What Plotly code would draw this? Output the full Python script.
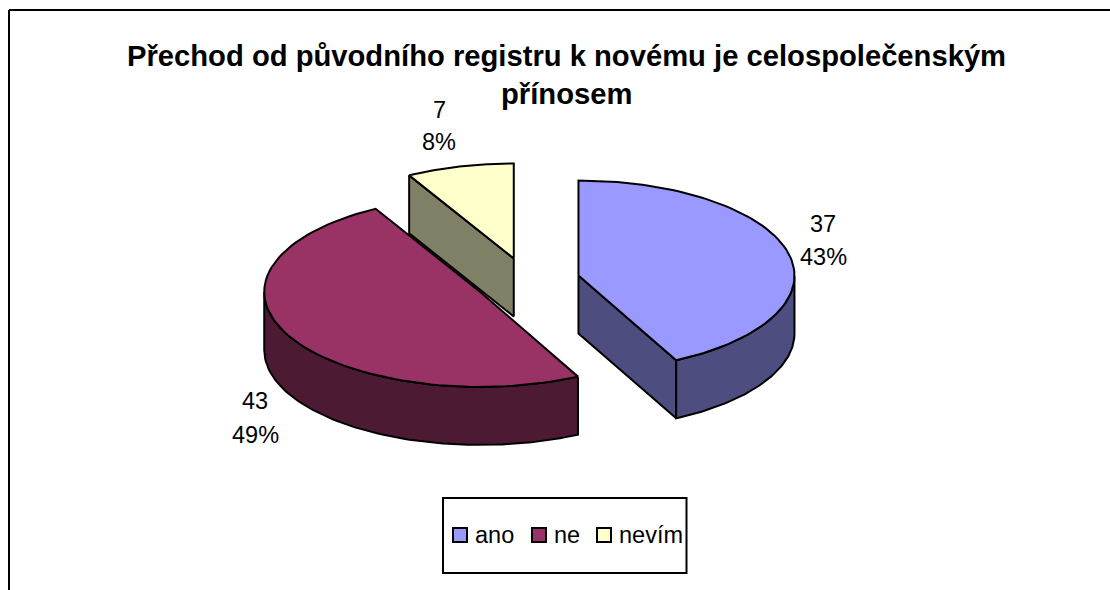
import numpy as np
import plotly.graph_objects as go

categories = ["ano", "ne", "nevím"]
values = [37, 43, 7]
top_colors = ["#9999FF", "#993366", "#FFFFCC"]
side_colors = ["#4D4D80", "#4D1A33", "#808066"]
title_lines = ["Přechod od původního registru k novému je celospolečenským", "přínosem"]

# projection of the tilted pie onto the pixel-sized axes
CX, CY, RX, RY, DEPTH, EXPLODE = 527, 281, 216, 95, 58, 0.245
label_pos = [(823, 224, 257), (255, 401, 435), (439, 110, 142)]
legend_swatch_x = [460, 539, 604]
legend_text_x = [473, 552, 617]

total = sum(values)
edges = np.concatenate([[0], np.cumsum(values)]) / total * 2 * np.pi


def arc(ax, ay, a0, a1, dy=0.0):
    t = np.linspace(a0, a1, 90)
    return ax + RX * np.sin(t), ay - RY * np.cos(t) + dy


def poly(fig, xs, ys, color):
    fig.add_trace(go.Scatter(
        x=np.append(xs, xs[0]), y=np.append(ys, ys[0]), mode="lines", fill="toself",
        fillcolor=color, line=dict(color="black", width=2), hoverinfo="skip", showlegend=False))


fig = go.Figure()
apex = []
for i in range(3):
    mid = (edges[i] + edges[i + 1]) / 2
    apex.append((CX + EXPLODE * RX * np.sin(mid), CY - EXPLODE * RY * np.cos(mid)))

for i in [2, 1, 0]:
    a0, a1 = edges[i], edges[i + 1]
    ax, ay = apex[i]
    # visible cut face: the radial edge that faces the viewer
    if i == 0:
        fx, fy = ax + RX * np.sin(a1), ay - RY * np.cos(a1)
        poly(fig, np.array([ax, fx, fx, ax]), np.array([ay, fy, fy + DEPTH, ay + DEPTH]), side_colors[i])
    if i == 2:
        fx, fy = ax + RX * np.sin(a0), ay - RY * np.cos(a0)
        poly(fig, np.array([ax, fx, fx, ax]), np.array([ay, fy, fy + DEPTH, ay + DEPTH]), side_colors[i])
    # outer wall: the part of the rim on the near half of the ellipse
    w0, w1 = max(a0, np.pi / 2), min(a1, 3 * np.pi / 2)
    if w1 > w0:
        x1, y1 = arc(ax, ay, w0, w1)
        x2, y2 = arc(ax, ay, w1, w0, DEPTH)
        poly(fig, np.concatenate([x1, x2]), np.concatenate([y1, y2]), side_colors[i])
    # top surface
    x, y = arc(ax, ay, a0, a1)
    poly(fig, np.concatenate([[ax], x]), np.concatenate([[ay], y]), top_colors[i])

annotations = []


def txt(x, y, s, size, bold=False, anchor="center"):
    annotations.append(dict(
        x=x, y=y, xref="x", yref="y", text=f"<b>{s}</b>" if bold else s, showarrow=False,
        xanchor=anchor, yanchor="middle", font=dict(family="Liberation Sans", size=size, color="black")))


txt(566, 56, title_lines[0], 29.2, True)
txt(566, 94, title_lines[1], 29.2, True)
for v, (lx, y1, y2) in zip(values, label_pos):
    txt(lx, y1, str(v), 23.5)
    txt(lx, y2, f"{round(v / total * 100)}%", 23.5)
for c, tx in zip(categories, legend_text_x):
    txt(tx, 535, c, 23.5, anchor="left")

fig.add_trace(go.Scatter(
    x=legend_swatch_x, y=[535] * 3, mode="markers", hoverinfo="skip", showlegend=False,
    marker=dict(symbol="square", size=14, color=top_colors, line=dict(color="black", width=2))))

shapes = [
    dict(type="line", x0=9, x1=9, y0=10, y1=590, line=dict(color="black", width=2)),
    dict(type="line", x0=9, x1=1110, y0=10, y1=10, line=dict(color="black", width=2)),
    dict(type="rect", x0=443, x1=686.5, y0=498, y1=573, line=dict(color="black", width=2)),
]

fig.update_layout(
    width=1110, height=590, margin=dict(l=0, r=0, t=0, b=0),
    paper_bgcolor="white", plot_bgcolor="white", shapes=shapes, annotations=annotations,
    xaxis=dict(range=[0, 1110], visible=False, fixedrange=True),
    yaxis=dict(range=[590, 0], visible=False, fixedrange=True),
)
fig.write_html("out.html", config={"displayModeBar": False},
               post_script="document.body.style.margin='0';")
